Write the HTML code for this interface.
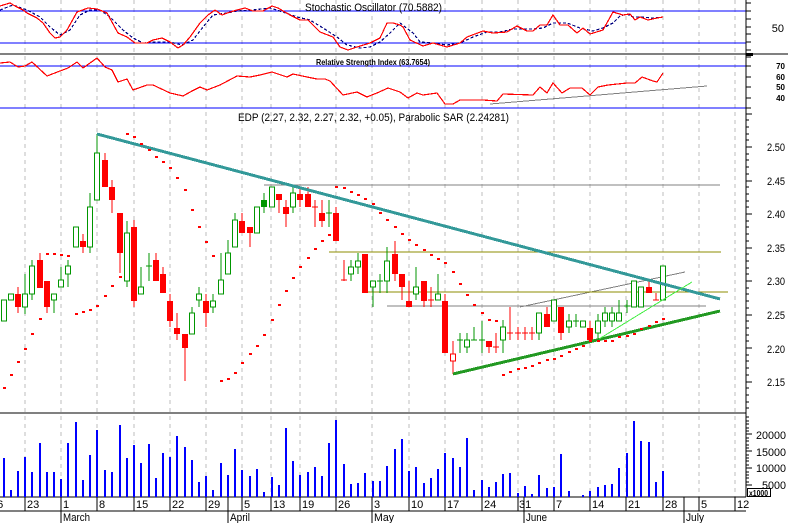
<!DOCTYPE html>
<html><head><meta charset="utf-8"><style>
html,body{margin:0;padding:0;background:#fff;}
svg{display:block;font-family:"Liberation Sans",Arial,sans-serif;}
</style></head><body>
<svg width="788" height="523" viewBox="0 0 788 523" xmlns="http://www.w3.org/2000/svg" shape-rendering="crispEdges">
<rect x="0" y="0" width="788" height="523" fill="#fff"/>
<!-- vertical dashed grid -->
<path d="M25 0V497M61 0V497M97 0V497M134 0V497M170 0V497M206 0V497M242 0V497M271 0V497M300 0V497M336 0V497M372 0V497M409 0V497M445 0V497M482 0V497M518 0V497M554 0V497M590 0V497M626 0V497M663 0V497M699 0V497M735 0V497" stroke="#bdbdbd" stroke-width="1" stroke-dasharray="4 4" fill="none"/>
<!-- panel lines -->
<path d="M0 11H746M0 43H746M0 66H746M0 108H746" stroke="#0000ff" stroke-width="1" fill="none"/>
<path d="M0 54H788M0 413H746M0 497H746M0 511H746M746 0V497" stroke="#000" stroke-width="1" fill="none"/>
<rect x="746" y="53" width="7" height="3" fill="#000"/>
<!-- right axis ticks -->
<path d="M746 3h5M746 11h5M746 19h5M746 27h5M746 34h5M746 42h5M746 50h5M746 57h5M746 66h5M746 77h5M746 87h5M746 98h5M746 108h5
M746 114h6M746 120h3M746 127h3M746 134h3M746 140h3M746 147h6M746 154h3M746 160h3M746 167h3M746 174h3M746 181h6M746 187h3M746 194h3M746 201h3M746 207h3M746 214h6M746 221h3M746 227h3M746 234h3M746 241h3M746 248h6M746 254h3M746 261h3M746 268h3M746 274h3M746 281h6M746 288h3M746 294h3M746 301h3M746 308h3M746 315h6M746 321h3M746 328h3M746 335h3M746 341h3M746 348h6M746 355h3M746 361h3M746 368h3M746 375h3M746 382h6M746 388h3M746 395h3M746 402h3M746 408h3
M746 417h3M746 421h3M746 424h3M746 428h3M746 431h3M746 434h6M746 438h3M746 441h3M746 445h3M746 448h3M746 451h6M746 455h3M746 458h3M746 461h3M746 465h3M746 468h6M746 472h3M746 475h3M746 478h3M746 482h3M746 485h6" stroke="#000" stroke-width="1" fill="none"/>
<!-- right axis labels -->
<text x="784" y="32" font-size="11" text-anchor="end">50</text>
<g font-size="8" font-weight="bold" text-anchor="end">
<text x="785" y="69">70</text><text x="785" y="80">60</text><text x="785" y="90">50</text><text x="785" y="101">40</text>
</g>
<g font-size="11">
<text x="767" y="151" textLength="18" lengthAdjust="spacingAndGlyphs">2.50</text>
<text x="767" y="185" textLength="18" lengthAdjust="spacingAndGlyphs">2.45</text>
<text x="767" y="218" textLength="18" lengthAdjust="spacingAndGlyphs">2.40</text>
<text x="767" y="252" textLength="18" lengthAdjust="spacingAndGlyphs">2.35</text>
<text x="767" y="285" textLength="18" lengthAdjust="spacingAndGlyphs">2.30</text>
<text x="767" y="319" textLength="18" lengthAdjust="spacingAndGlyphs">2.25</text>
<text x="767" y="353" textLength="18" lengthAdjust="spacingAndGlyphs">2.20</text>
<text x="767" y="386" textLength="18" lengthAdjust="spacingAndGlyphs">2.15</text>
<text x="756" y="439" textLength="30" lengthAdjust="spacingAndGlyphs">20000</text>
<text x="756" y="456" textLength="30" lengthAdjust="spacingAndGlyphs">15000</text>
<text x="756" y="472" textLength="30" lengthAdjust="spacingAndGlyphs">10000</text>
<text x="762" y="489" textLength="24" lengthAdjust="spacingAndGlyphs">5000</text>
</g>
<rect x="747.5" y="488.5" width="23" height="8" fill="#fff" stroke="#000" stroke-width="1"/>
<text x="749" y="496" font-size="8" font-weight="bold" textLength="19" lengthAdjust="spacingAndGlyphs">x1000</text>
<!-- titles -->
<text x="305" y="11" font-size="11" textLength="137" lengthAdjust="spacingAndGlyphs">Stochastic Oscillator (70.5882)</text>
<text x="316" y="65" font-size="8" font-weight="bold" textLength="114" lengthAdjust="spacingAndGlyphs">Relative Strength Index (63.7654)</text>
<text x="238" y="121" font-size="11" textLength="271" lengthAdjust="spacingAndGlyphs">EDP (2.27, 2.32, 2.27, 2.32, +0.05), Parabolic SAR (2.24281)</text>
<!-- stochastic -->
<polyline fill="none" stroke="#000080" stroke-width="1.2" stroke-dasharray="3 2" points="0,10 13,5 27,10 40,17 50,27 60,35 70,30 80,15 90,10 100,10 110,17 123,30 133,38 143,43 157,42 170,42 182,45 193,40 203,27 213,15 227,13 237,11 253,10 270,8 283,12 297,17 310,20 323,28 337,37 347,45 360,48 370,47 380,42 390,33 400,23 413,33 420,42 433,43 447,45 460,43 473,37 487,32 500,32 513,29 533,29 543,28 553,23 567,23 580,28 593,31 603,28 613,23 620,16 627,14 633,17 640,17 653,18 663,17"/>
<polyline fill="none" stroke="#ff0000" stroke-width="1.2" points="0,6 10,3 15,6 23,10 27,13 37,18 43,23 50,33 55,38 60,37 67,30 77,12 88,8 97,9 107,13 118,33 127,37 135,43 147,43 153,40 162,38 170,42 178,48 183,45 190,37 200,23 208,15 215,10 222,15 230,12 237,10 245,8 253,11 263,11 272,6 278,8 290,15 300,20 308,20 320,32 333,37 340,47 348,50 357,47 370,43 380,38 387,23 393,23 400,25 403,27 410,40 423,46 433,43 447,47 460,43 467,37 483,31 493,33 507,32 517,26 527,31 533,31 540,25 547,25 553,15 560,25 568,25 577,33 583,28 590,34 603,30 613,12 623,15 630,14 635,20 640,17 648,20 657,18 663,17"/>
<!-- RSI -->
<line x1="490" y1="104" x2="707" y2="86" stroke="#808080" stroke-width="1"/>
<polyline fill="none" stroke="#ff0000" stroke-width="1.2" points="0,63 10,62 18,67 25,66 32,62 47,76 60,71 68,68 77,62 83,68 97,58 105,67 112,70 118,82 127,79 133,90 147,85 153,85 170,93 183,96 192,91 200,87 207,90 220,85 237,76 250,77 260,75 272,72 287,77 293,74 307,77 317,79 325,79 330,81 343,95 357,92 367,97 377,93 388,88 400,92 408,98 417,93 423,95 437,93 445,104 453,104 460,100 483,100 497,101 503,94 533,95 540,87 547,93 553,83 562,93 570,88 582,88 590,95 598,87 608,85 627,83 635,83 642,77 653,81 657,82 663,73"/>
<!-- horizontal study lines -->
<path d="M264 185H720M387 306H706" stroke="#808080" stroke-width="1" fill="none"/>
<line x1="520" y1="307" x2="685" y2="272" stroke="#808080" stroke-width="1"/>
<path d="M329 252H721M365 292H728" stroke="#8c8c00" stroke-width="1" fill="none"/>
<!-- candle wicks -->
<path fill="none" stroke="#009600" stroke-width="1" d="M4 300V321M11 294V300M25 274V314M32 260V300M54 294V313M61 267V287M68 260V287M76 227V247M90 193V253M97 134V200M127 221V287M141 267V294M149 253V281M192 307V334M199 287V307M213 294V313M221 253V294M228 240V274M235 213V247M257 207V233M264 193V213M272 187V207M293 187V213M329 200V227M351 260V281M358 253V274M373 281V307M380 274V293M387 247V293M416 267V300M438 274V300M460 333V353M467 333V353M474 327V340M482 321V353M503 320V353M539 313V340M554 300V321M569 314V333M576 314V327M583 321V327M598 314V340M605 307V327M612 307V327M619 300V321M627 300V313M634 281V307M641 287V307M663 266V300M146 266H152M326 213H332M377 281H383M457 340H463M471 340H477M479 340H485M573 321H579M624 306H630"/>
<path fill="none" stroke="#ff0000" stroke-width="1" d="M18 287V313M40 253V288M47 281V313M83 234V253M105 153V187M112 180V213M120 213V273M134 220V307M156 253V281M163 267V293M170 294V327M177 313V340M185 334V381M206 294V327M242 213V233M250 227V247M279 194V213M286 200V227M300 187V207M308 187V207M315 200V227M322 200V227M336 207V241M344 260V281M365 254V293M395 241V281M402 274V300M409 281V307M424 281V307M431 287V307M445 294V353M453 341V374M489 341V353M496 333V353M510 307V340M518 327V340M525 327V340M532 327V340M547 307V327M561 307V340M590 321V340M649 281V293M656 293V300M312 207H318M341 280H347M428 300H434M493 347H499M507 333H513M515 333H521M522 333H528M529 333H535M653 300H659"/>
<!-- green hollow bodies -->
<g fill="#fff" stroke="#009600" stroke-width="1">
<rect x="1.5" y="300" width="5" height="21"/><rect x="8.5" y="294" width="5" height="6"/><rect x="22.5" y="294" width="5" height="13"/><rect x="29.5" y="266" width="5" height="28"/><rect x="51.5" y="294" width="5" height="6"/><rect x="58.5" y="280" width="5" height="7"/><rect x="65.5" y="266" width="5" height="8"/><rect x="73.5" y="227" width="5" height="20"/><rect x="87.5" y="207" width="5" height="40"/><rect x="94.5" y="153" width="5" height="47"/><rect x="124.5" y="233" width="5" height="48"/><rect x="138.5" y="287" width="5" height="7"/><rect x="189.5" y="313" width="5" height="21"/><rect x="196.5" y="294" width="5" height="6"/><rect x="210.5" y="301" width="5" height="6"/><rect x="218.5" y="280" width="5" height="14"/><rect x="225.5" y="253" width="5" height="21"/><rect x="232.5" y="220" width="5" height="27"/><rect x="254.5" y="207" width="5" height="26"/><rect x="269.5" y="187" width="5" height="20"/><rect x="290.5" y="193" width="5" height="14"/><rect x="348.5" y="267" width="5" height="7"/><rect x="355.5" y="261" width="5" height="6"/><rect x="370.5" y="281" width="5" height="6"/><rect x="384.5" y="261" width="5" height="20"/><rect x="413.5" y="287" width="5" height="7"/><rect x="435.5" y="294" width="5" height="6"/><rect x="464.5" y="340" width="5" height="7"/><rect x="500.5" y="327" width="5" height="13"/><rect x="536.5" y="313" width="5" height="20"/><rect x="551.5" y="300" width="5" height="21"/><rect x="566.5" y="321" width="5" height="6"/><rect x="580.5" y="321" width="5" height="6"/><rect x="595.5" y="321" width="5" height="12"/><rect x="602.5" y="313" width="5" height="8"/><rect x="609.5" y="313" width="5" height="8"/><rect x="616.5" y="313" width="5" height="8"/><rect x="631.5" y="281" width="5" height="26"/><rect x="638.5" y="287" width="5" height="20"/><rect x="660.5" y="266" width="5" height="34"/>
</g>
<rect x="261" y="200" width="6" height="7" fill="#009600"/>
<rect x="450.5" y="354" width="5" height="7" fill="#fff" stroke="#ff0000" stroke-width="1"/>
<!-- red filled bodies -->
<g fill="#ff0000">
<rect x="15" y="294" width="6" height="13"/><rect x="37" y="260" width="6" height="28"/><rect x="44" y="281" width="6" height="26"/><rect x="80" y="241" width="6" height="6"/><rect x="102" y="160" width="6" height="27"/><rect x="109" y="187" width="6" height="13"/><rect x="117" y="213" width="6" height="40"/><rect x="131" y="227" width="6" height="74"/><rect x="153" y="260" width="6" height="21"/><rect x="160" y="274" width="6" height="19"/><rect x="167" y="301" width="6" height="20"/><rect x="174" y="328" width="6" height="6"/><rect x="182" y="334" width="6" height="14"/><rect x="203" y="301" width="6" height="12"/><rect x="239" y="221" width="6" height="12"/><rect x="247" y="227" width="6" height="6"/><rect x="276" y="194" width="6" height="6"/><rect x="283" y="207" width="6" height="7"/><rect x="297" y="194" width="6" height="6"/><rect x="305" y="194" width="6" height="13"/><rect x="319" y="213" width="6" height="8"/><rect x="333" y="213" width="6" height="28"/><rect x="362" y="254" width="6" height="39"/><rect x="392" y="254" width="6" height="20"/><rect x="399" y="274" width="6" height="13"/><rect x="406" y="301" width="6" height="6"/><rect x="421" y="281" width="6" height="20"/><rect x="442" y="301" width="6" height="52"/><rect x="486" y="341" width="6" height="6"/><rect x="544" y="314" width="6" height="13"/><rect x="558" y="307" width="6" height="26"/><rect x="587" y="328" width="6" height="12"/><rect x="646" y="287" width="6" height="6"/>
</g>
<!-- trend lines -->
<line x1="97" y1="134" x2="720" y2="299" stroke="#339999" stroke-width="3"/>
<line x1="453" y1="374" x2="720" y2="311" stroke="#229922" stroke-width="3"/>
<line x1="599" y1="339" x2="692" y2="282" stroke="#44ee44" stroke-width="1"/>
<!-- parabolic SAR -->
<path fill="none" stroke="#ff0000" stroke-width="2" d="M3 388h3M10 375h3M17 362h3M24 349h3M31 334h3M39 319h3M46 254h3M53 254h3M60 255h3M67 256h3M75 314h3M82 312h3M89 310h3M96 306h3M104 296h3M111 286h3M119 277h3M126 134h3M133 137h3M140 144h3M148 150h3M155 157h3M162 162h3M169 168h3M176 178h3M184 190h3M191 210h3M198 227h3M205 242h3M212 256h3M220 381h3M227 379h3M234 373h3M241 363h3M249 354h3M256 346h3M263 335h3M271 320h3M278 305h3M285 291h3M292 278h3M299 267h3M307 258h3M314 249h3M321 241h3M328 235h3M335 187h3M343 188h3M350 192h3M357 195h3M364 199h3M372 204h3M379 213h3M386 220h3M394 227h3M401 234h3M408 240h3M415 245h3M423 250h3M430 255h3M437 259h3M444 263h3M452 272h3M459 284h3M466 295h3M473 305h3M481 313h3M488 320h3M495 321h3M502 375h3M509 372h3M517 369h3M524 368h3M531 366h3M538 363h3M546 360h3M553 359h3M560 356h3M568 352h3M575 349h3M582 346h3M589 341h3M597 341h3M604 341h3M611 341h3M618 337h3M626 336h3M633 334h3M640 329h3M648 326h3M655 322h3M662 319h3"/>
<!-- volume -->
<g fill="#0000ff">
<rect x="3" y="458" width="2" height="39"/><rect x="10" y="490" width="2" height="7"/><rect x="17" y="471" width="2" height="26"/><rect x="24" y="457" width="2" height="40"/><rect x="31" y="472" width="2" height="25"/><rect x="39" y="443" width="2" height="54"/><rect x="46" y="472" width="2" height="25"/><rect x="53" y="472" width="2" height="25"/><rect x="60" y="479" width="2" height="18"/><rect x="67" y="443" width="2" height="54"/><rect x="75" y="422" width="2" height="75"/><rect x="82" y="480" width="2" height="17"/><rect x="89" y="455" width="2" height="42"/><rect x="96" y="430" width="2" height="67"/><rect x="104" y="470" width="2" height="27"/><rect x="111" y="472" width="2" height="25"/><rect x="119" y="425" width="2" height="72"/><rect x="126" y="458" width="2" height="39"/><rect x="133" y="445" width="2" height="52"/><rect x="140" y="463" width="2" height="34"/><rect x="148" y="444" width="2" height="53"/><rect x="155" y="478" width="2" height="19"/><rect x="162" y="453" width="2" height="44"/><rect x="169" y="457" width="2" height="40"/><rect x="176" y="436" width="2" height="61"/><rect x="184" y="447" width="2" height="50"/><rect x="191" y="460" width="2" height="37"/><rect x="198" y="482" width="2" height="15"/><rect x="205" y="476" width="2" height="21"/><rect x="212" y="490" width="2" height="7"/><rect x="220" y="463" width="2" height="34"/><rect x="227" y="475" width="2" height="22"/><rect x="234" y="449" width="2" height="48"/><rect x="241" y="470" width="2" height="27"/><rect x="249" y="476" width="2" height="21"/><rect x="256" y="469" width="2" height="28"/><rect x="263" y="492" width="2" height="5"/><rect x="271" y="477" width="2" height="20"/><rect x="278" y="485" width="2" height="12"/><rect x="285" y="428" width="2" height="69"/><rect x="292" y="461" width="2" height="36"/><rect x="299" y="475" width="2" height="22"/><rect x="307" y="472" width="2" height="25"/><rect x="314" y="467" width="2" height="30"/><rect x="321" y="476" width="2" height="21"/><rect x="328" y="443" width="2" height="54"/><rect x="335" y="420" width="2" height="77"/><rect x="343" y="464" width="2" height="33"/><rect x="350" y="484" width="2" height="13"/><rect x="357" y="483" width="2" height="14"/><rect x="364" y="473" width="2" height="24"/><rect x="372" y="481" width="2" height="16"/><rect x="379" y="481" width="2" height="16"/><rect x="386" y="466" width="2" height="31"/><rect x="394" y="449" width="2" height="48"/><rect x="401" y="439" width="2" height="58"/><rect x="408" y="471" width="2" height="26"/><rect x="415" y="467" width="2" height="30"/><rect x="423" y="483" width="2" height="14"/><rect x="430" y="478" width="2" height="19"/><rect x="437" y="469" width="2" height="28"/><rect x="444" y="453" width="2" height="44"/><rect x="452" y="458" width="2" height="39"/><rect x="459" y="467" width="2" height="30"/><rect x="466" y="438" width="2" height="59"/><rect x="473" y="490" width="2" height="7"/><rect x="481" y="480" width="2" height="17"/><rect x="488" y="487" width="2" height="10"/><rect x="495" y="482" width="2" height="15"/><rect x="502" y="474" width="2" height="23"/><rect x="509" y="473" width="2" height="24"/><rect x="517" y="493" width="2" height="4"/><rect x="524" y="486" width="2" height="11"/><rect x="531" y="494" width="2" height="3"/><rect x="538" y="475" width="2" height="22"/><rect x="546" y="488" width="2" height="9"/><rect x="553" y="487" width="2" height="10"/><rect x="560" y="454" width="2" height="43"/><rect x="568" y="491" width="2" height="6"/><rect x="582" y="495" width="2" height="2"/><rect x="589" y="491" width="2" height="6"/><rect x="597" y="487" width="2" height="10"/><rect x="604" y="485" width="2" height="12"/><rect x="611" y="484" width="2" height="13"/><rect x="618" y="468" width="2" height="29"/><rect x="626" y="453" width="2" height="44"/><rect x="633" y="421" width="2" height="76"/><rect x="640" y="441" width="2" height="56"/><rect x="648" y="442" width="2" height="55"/><rect x="655" y="482" width="2" height="15"/><rect x="662" y="471" width="2" height="26"/>
</g>
<!-- x axis separators -->
<path fill="none" stroke="#000" stroke-width="1" d="M25 497V511M61 497V523M97 497V511M134 497V511M170 497V511M206 497V511M228 497V523M242 497V511M271 497V511M300 497V511M336 497V511M372 497V523M409 497V511M445 497V511M482 497V511M518 497V511M524 497V523M554 497V511M590 497V511M626 497V511M663 497V511M684 497V523M699 497V511M735 497V511"/>
<g font-size="11">
<text x="-9" y="508">16</text><text x="27" y="508">23</text><text x="63" y="508">1</text><text x="99" y="508">8</text><text x="136" y="508">15</text><text x="172" y="508">22</text><text x="208" y="508">29</text><text x="244" y="508">5</text><text x="273" y="508">13</text><text x="302" y="508">19</text><text x="338" y="508">26</text><text x="374" y="508">3</text><text x="411" y="508">10</text><text x="447" y="508">17</text><text x="484" y="508">24</text><text x="519" y="508">31</text><text x="556" y="508">7</text><text x="592" y="508">14</text><text x="628" y="508">21</text><text x="665" y="508">28</text><text x="701" y="508">5</text><text x="737" y="508">12</text>
<text x="63" y="521" textLength="27" lengthAdjust="spacingAndGlyphs">March</text>
<text x="230" y="521" textLength="20" lengthAdjust="spacingAndGlyphs">April</text>
<text x="374" y="521" textLength="20" lengthAdjust="spacingAndGlyphs">May</text>
<text x="526" y="521" textLength="21" lengthAdjust="spacingAndGlyphs">June</text>
<text x="686" y="521" textLength="18" lengthAdjust="spacingAndGlyphs">July</text>
</g>
</svg>
</body></html>
